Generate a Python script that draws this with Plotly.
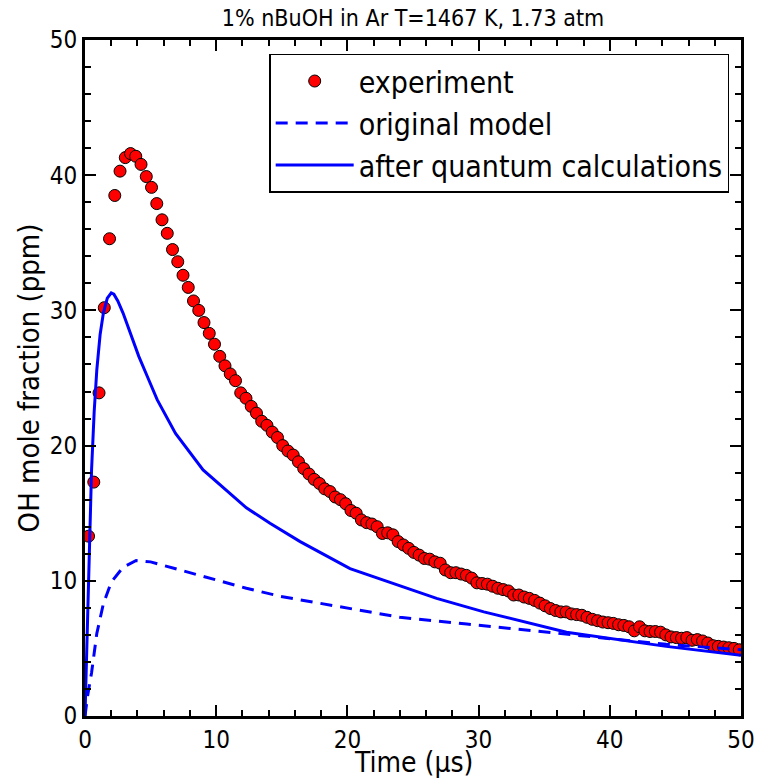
import plotly.graph_objects as go

# Experimental OH mole fraction (ppm) vs time (µs)
exp_time = [0.27, 0.67, 1.07, 1.47, 1.87, 2.27, 2.67, 3.07, 3.47, 3.87,
            4.27, 4.67, 5.07, 5.47, 5.87, 6.27, 6.67, 7.07, 7.47, 7.87,
            8.27, 8.67, 9.07, 9.47, 9.87, 10.27, 10.67, 11.07, 11.47, 11.87,
            12.27, 12.67, 13.07, 13.47, 13.87, 14.27, 14.67, 15.07, 15.47, 15.87,
            16.27, 16.67, 17.07, 17.47, 17.87, 18.27, 18.67, 19.07, 19.47, 19.87,
            20.27, 20.67, 21.07, 21.47, 21.87, 22.27, 22.67, 23.07, 23.47, 23.87,
            24.27, 24.67, 25.07, 25.47, 25.87, 26.27, 26.67, 27.07, 27.47, 27.87,
            28.27, 28.67, 29.07, 29.47, 29.87, 30.27, 30.67, 31.07, 31.47, 31.87,
            32.27, 32.67, 33.07, 33.47, 33.87, 34.27, 34.67, 35.07, 35.47, 35.87,
            36.27, 36.67, 37.07, 37.47, 37.87, 38.27, 38.67, 39.07, 39.47, 39.87,
            40.27, 40.67, 41.07, 41.47, 41.87, 42.27, 42.67, 43.07, 43.47, 43.87,
            44.27, 44.67, 45.07, 45.47, 45.87, 46.27, 46.67, 47.07, 47.47, 47.87,
            48.27, 48.67, 49.07, 49.47, 49.87]
exp_oh = [13.3, 17.3, 23.9, 30.2, 35.3, 38.5, 40.3, 41.3, 41.6, 41.4,
          40.8, 39.9, 39.1, 37.9, 36.7, 35.7, 34.5, 33.6, 32.6, 31.7,
          30.7, 30.0, 29.1, 28.3, 27.5, 26.6, 25.9, 25.3, 24.8, 23.9,
          23.5, 22.9, 22.4, 21.8, 21.5, 21.0, 20.6, 20.0, 19.6, 19.3,
          18.8, 18.3, 17.9, 17.5, 17.2, 16.8, 16.6, 16.2, 16.0, 15.7,
          15.2, 15.0, 14.5, 14.3, 14.2, 14.0, 13.5, 13.55, 13.4, 12.9,
          12.65, 12.4, 12.1, 11.9, 11.65, 11.6, 11.4, 11.3, 10.8, 10.6,
          10.6, 10.5, 10.4, 10.2, 9.85, 9.8, 9.75, 9.6, 9.45, 9.35,
          9.25, 8.95, 8.95, 8.8, 8.7, 8.55, 8.35, 8.15, 7.95, 7.8,
          7.7, 7.7, 7.55, 7.5, 7.45, 7.3, 7.15, 7.05, 6.95, 6.9,
          6.85, 6.75, 6.7, 6.6, 6.3, 6.6, 6.3, 6.25, 6.25, 6.2,
          6.0, 5.85, 5.8, 5.75, 5.8, 5.6, 5.65, 5.55, 5.4, 5.2,
          5.15, 5.1, 5.05, 5.0, 4.9]

# Original model
orig_time = [0, 0.2, 0.5, 0.9, 1.4, 2.0, 2.9, 3.9, 5.0, 7.2, 9.8, 12.3, 14.9,
             18.7, 24.0, 29.1, 38.0, 44.3, 50.0]
orig_oh = [0, 1.5, 3.2, 6.1, 8.3, 9.9, 11.0, 11.5, 11.4, 10.8, 10.1, 9.45, 8.85,
           8.2, 7.3, 6.8, 5.95, 5.3, 4.9]

# After quantum calculations
quant_time = [0, 0.15, 0.3, 0.5, 0.7, 0.9, 1.15, 1.4, 1.7, 2.0, 2.2, 2.5, 2.9,
              3.5, 4.1, 4.8, 5.5, 6.9, 9.0, 12.3, 14.1, 16.4, 20.2, 26.8, 30.4,
              36.7, 40.5, 44.3, 50.0]
quant_oh = [0, 6, 12, 18.2, 22.5, 25.6, 28.2, 29.8, 30.9, 31.3, 31.2, 30.7, 29.8,
            28.2, 26.6, 25.0, 23.4, 20.9, 18.2, 15.4, 14.25, 12.9, 10.9, 8.7, 7.7,
            6.2, 5.7, 5.15, 4.5]

tick_vals = [0, 10, 20, 30, 40, 50]
tick_text = ["0", "10", "20", "30", "40", "50"]

FONT = "DejaVu Sans Condensed, DejaVu Sans"

fig = go.Figure()
fig.add_trace(go.Scatter(
    x=exp_time, y=exp_oh, mode="markers", name="experiment", legendgroup="a",
    marker=dict(symbol="circle", size=12, color="#ff0000",
                line=dict(color="black", width=1)),
))
fig.add_trace(go.Scatter(
    x=orig_time, y=orig_oh, mode="lines", name="original model", legendgroup="b",
    line=dict(color="#0000ff", width=3, dash="12px,8px"),
))
fig.add_trace(go.Scatter(
    x=quant_time, y=quant_oh, mode="lines", name="after quantum calculations",
    legendgroup="c",
    line=dict(color="#0000ff", width=3),
))

axis_common = dict(
    range=[0, 50], tickmode="array", tickvals=tick_vals, ticktext=tick_text,
    ticks="inside", ticklen=11, tickwidth=2, tickcolor="black",
    showline=True, linecolor="black", linewidth=3, mirror="allticks",
    showgrid=False, zeroline=False, automargin=False,
    tickfont=dict(family=FONT, size=24, color="black"),
    minor=dict(tickvals=[v for v in range(2, 50, 2) if v % 10 != 0],
               ticks="inside", ticklen=6, tickwidth=2, tickcolor="black",
               showgrid=False),
)

fig.update_xaxes(**axis_common)
fig.update_yaxes(**axis_common,
                 title=dict(text="OH mole fraction (ppm)", font=dict(family=FONT, size=29, color="black"),
                            standoff=2))

fig.add_annotation(
    text="Time (µs)", xref="paper", yref="paper", x=0.5, y=-0.0695,
    xanchor="center", yanchor="middle", showarrow=False,
    font=dict(family=FONT, size=28, color="black"),
)

fig.update_layout(
    width=757, height=782,
    margin=dict(l=85, r=16, t=40, b=66),
    paper_bgcolor="white", plot_bgcolor="white",
    title=dict(text="1% nBuOH in Ar T=1467 K, 1.73 atm", xref="paper", x=0.5, xanchor="center",
               y=0.977, yanchor="middle",
               font=dict(family=FONT, size=23, color="black")),
    legend=dict(x=0.982, y=0.98, xanchor="right", yanchor="top",
                bgcolor="white", bordercolor="black", borderwidth=1.5,
                font=dict(family=FONT, size=30, color="black"),
                itemwidth=78, tracegroupgap=0),
    showlegend=True,
)

fig.write_html("out.html")
